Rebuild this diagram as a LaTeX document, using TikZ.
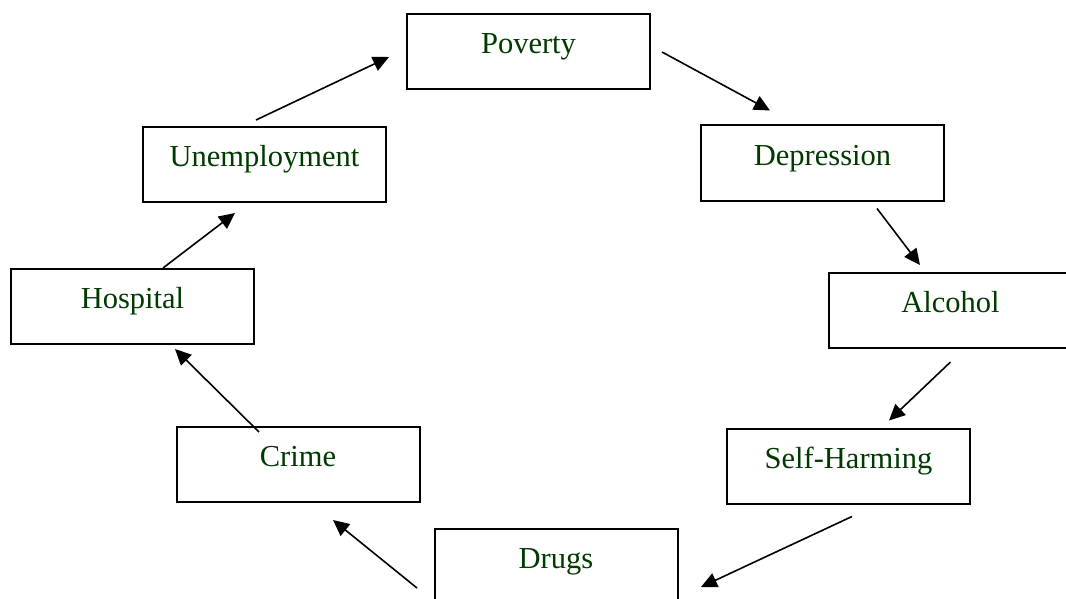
\documentclass[tikz,border=0pt]{standalone}
\usepackage{fontspec}
\setmainfont{Liberation Serif}
\usepackage{tikz}
\usetikzlibrary{arrows.meta}
\definecolor{txtgreen}{RGB}{0,58,0}

\begin{document}
\begin{tikzpicture}[x=1pt,y=-1pt]
\tikzstyle{box}=[draw,line width=2pt,inner sep=0pt,text width=243pt,align=center,
  text height=39.5pt,text depth=35.5pt,font=\fontsize{30.5}{36}\selectfont,text=txtgreen]
\tikzstyle{arr}=[line width=1.6pt,-{Triangle[length=16pt,width=15pt]}]
\useasboundingbox (0,0) rectangle (1066,599);
\clip (0,0) rectangle (1066,599);
    \node [box] (pov) at (528.5,51.5) {Poverty};
    \node [box] (dep) at (822.5,163) {Depression};
    \node [box] (alc) at (950.5,310.5) {Alcohol};
    \node [box] (selfharm) at (848.5,466) {Self-Harming};
    \node [box] (drugs) at (556,566.5) {Drugs};
    \node [box] (crime) at (298,464.5) {Crime};
    \node [box] (hosp) at (132.5,306) {Hospital};
    \node [box] (unemp) at (264.5,164.5) {Unemployment};
    % round the circle
    \draw[arr] ([shift={(-8.5,-6)}]unemp.north) -- ([shift={(-17,5.5)}]pov.west);
    \draw[arr] ([shift={(11,0.5)}]pov.east) -- ([shift={(-52.5,-14)}]dep.north);
    \draw[arr] ([shift={(54.5,7)}]dep.south) -- ([shift={(-30.5,-7)}]alc.north);
    \draw[arr] ([shift={(0,13)}]alc.south) -- ([shift={(40.5,-7)}]selfharm.north);
    \draw[arr] ([shift={(3.5,12)}]selfharm.south) -- ([shift={(22.5,20.5)}]drugs.east);
    \draw[arr] ([shift={(-16.5,21.5)}]drugs.west) -- ([shift={(35,17)}]crime.south);
    \draw[arr] ([shift={(-39,6)}]crime.north) -- ([shift={(42.5,4.5)}]hosp.south);
    \draw[arr] ([shift={(30.5,0.5)}]hosp.north) -- ([shift={(-29.5,10)}]unemp.south);
\end{tikzpicture}
\end{document}
